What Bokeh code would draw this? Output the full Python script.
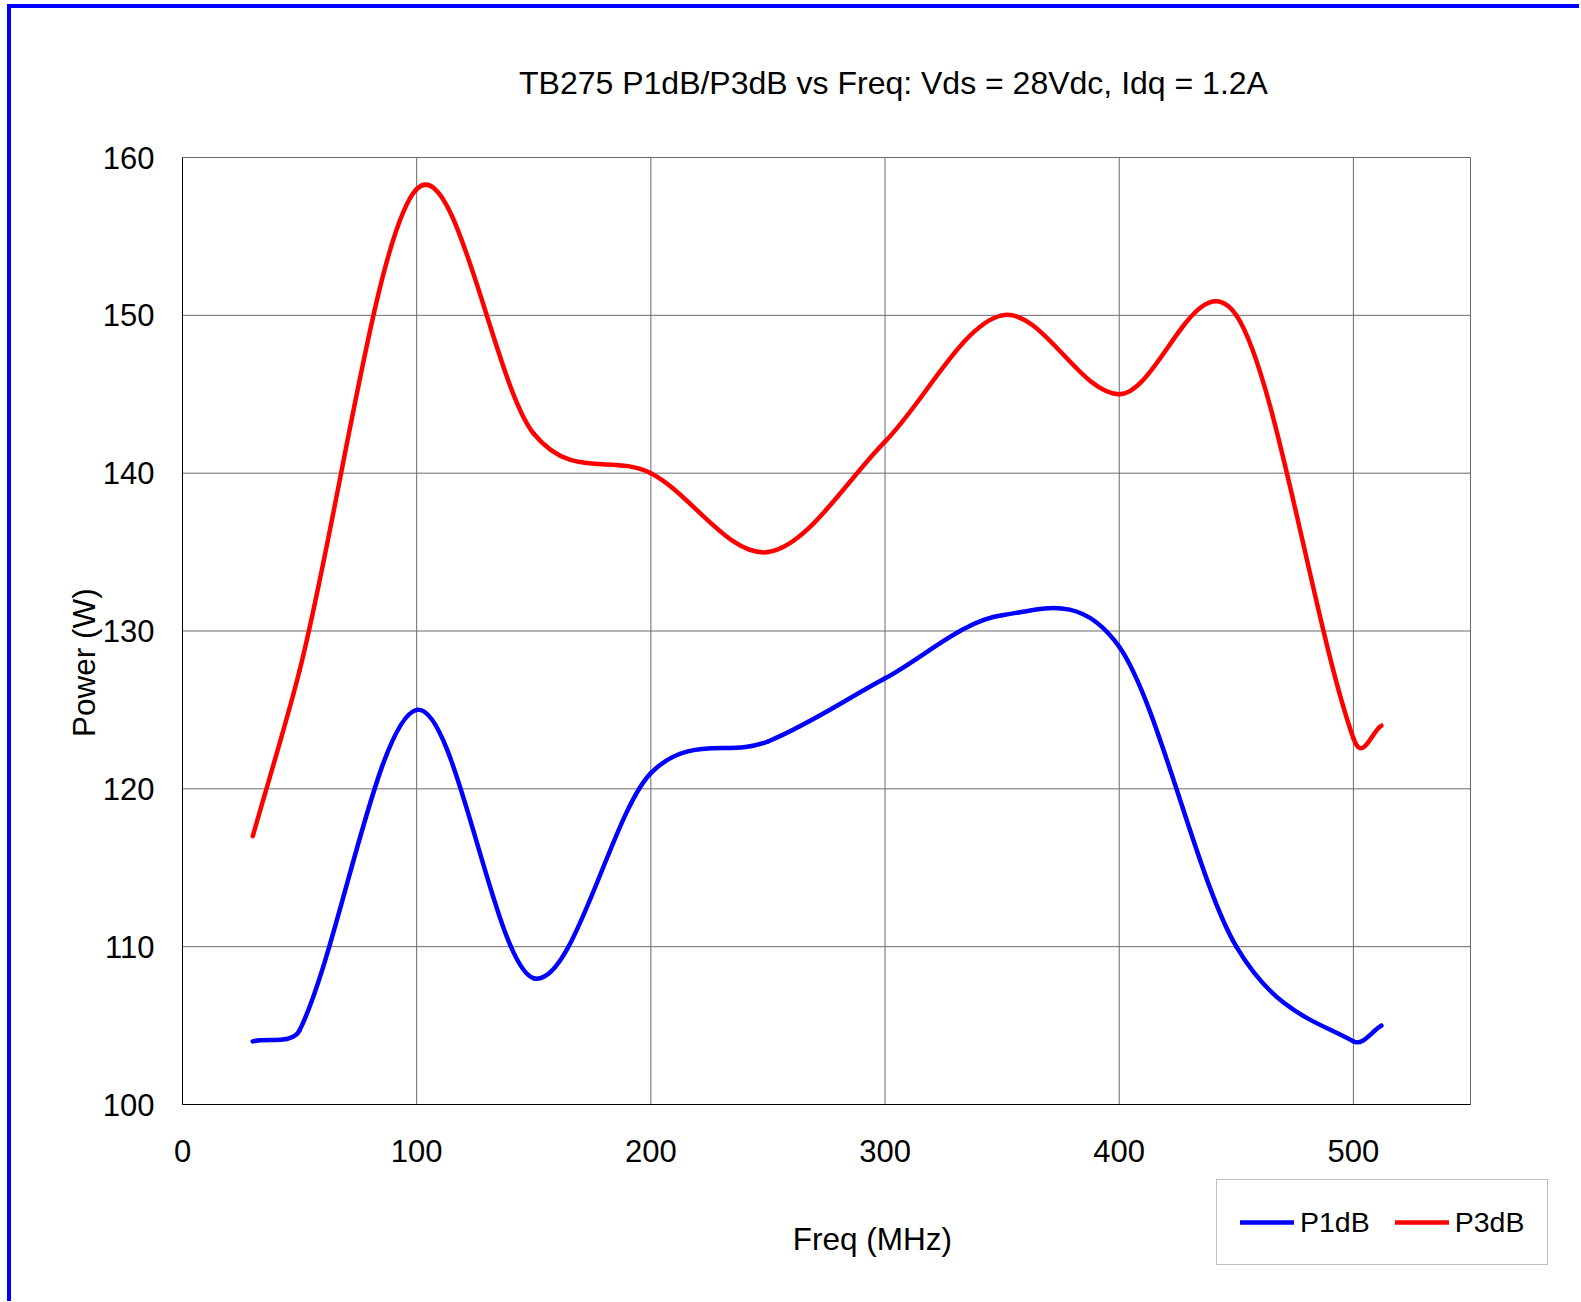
import numpy as np
from bokeh.plotting import figure
from bokeh.models import Label, Legend, LegendItem, FixedTicker, Range1d, ColumnDataSource
from bokeh.embed import file_html
from bokeh.resources import INLINE

# ---- data ----
freq_mhz = [30, 50, 100, 150, 200, 250, 300, 350, 400, 450, 500, 512]
p1db_w = [104, 104.7, 125, 108, 121, 123, 127, 131, 129, 110, 104, 105]
p3db_w = [117, 127.5, 158, 142.5, 140, 135, 142, 150, 145, 150, 123.2, 124]
x_ticks = [0, 100, 200, 300, 400, 500]
y_ticks = [100, 110, 120, 130, 140, 150, 160]
x_bounds = (0, 550)
y_bounds = (100, 160)
series_names = ["P1dB", "P3dB"]
series_colors = ["#0000FF", "#FF0000"]
title_text = "TB275 P1dB/P3dB vs Freq: Vds = 28Vdc, Idq = 1.2A"
x_label = "Freq (MHz)"
y_label = "Power (W)"

FONT = "Liberation Sans"

# canvas geometry (pixels): plot area spans x 171..1459, y 149..1096
W, H = 1568, 1293
PL, PR, PT, PB = 171.0, 1459.0, 149.0, 1096.0
sx = (PR - PL) / (x_bounds[1] - x_bounds[0])
sy = (PB - PT) / (y_bounds[1] - y_bounds[0])


def smooth_bezier(xs, ys):
    """Excel-style smoothed line: cubic Bezier segments between the data
    points, with control handles derived from neighbouring points.  The
    handle entering the point after a short first step is limited to a third
    of that step on screen."""
    x = np.asarray(xs, float)
    y = np.asarray(ys, float)
    n = len(x)
    hin = np.zeros((n, 2))
    hout = np.zeros((n, 2))
    for i in range(1, n - 1):
        t = np.array([x[i + 1] - x[i - 1], y[i + 1] - y[i - 1]])
        din, dout = x[i] - x[i - 1], x[i + 1] - x[i]
        hin[i] = t * din / (din + dout) / 3.0
        hout[i] = t * dout / (din + dout) / 3.0
    regular = np.median(np.diff(x))
    if x[1] - x[0] < regular:
        chord = np.hypot((x[1] - x[0]) * sx, (y[1] - y[0]) * sy) / 3.0
        L = np.hypot(hin[1][0] * sx, hin[1][1] * sy)
        if L > chord:
            hin[1] = hin[1] * chord / L
    hout[0] = ((x[1] - x[0]) / 3.0, (y[1] - y[0]) / 3.0)
    hin[-1] = ((x[-1] - x[-2]) / 3.0, (y[-1] - y[-2]) / 3.0)
    return dict(
        x0=x[:-1], y0=y[:-1], x1=x[1:], y1=y[1:],
        cx0=x[:-1] + hout[:-1, 0], cy0=y[:-1] + hout[:-1, 1],
        cx1=x[1:] - hin[1:, 0], cy1=y[1:] - hin[1:, 1],
    )


x_rng = Range1d(x_bounds[0] - PL / sx, x_bounds[1] + (W - PR) / sx)
y_rng = Range1d(y_bounds[0] - (H - PB) / sy, y_bounds[1] + PT / sy)

p = figure(
    width=W, height=H, title=None,
    output_backend="svg", toolbar_location=None,
    x_range=x_rng, y_range=y_rng,
    min_border_left=0, min_border_right=0,
    min_border_top=0, min_border_bottom=0,
    background_fill_color="white", border_fill_color="white",
    outline_line_color=None,
    styles={"position": "relative", "left": "11px", "top": "8px",
            "box-shadow": "-2px -2px 0 2px #0000ff"},
)

# axes drawn at the plot-area edges
for ax in (p.xaxis[0], p.yaxis[0]):
    ax.axis_line_color = "black"
    ax.axis_line_width = 1
    ax.major_tick_in = 0
    ax.major_tick_out = 0
    ax.minor_tick_in = 0
    ax.minor_tick_out = 0
    ax.major_label_text_font = FONT
    ax.major_label_text_font_size = "31px"
    ax.major_label_text_color = "black"
p.xaxis[0].fixed_location = y_bounds[0]
p.xaxis[0].bounds = x_bounds
p.yaxis[0].fixed_location = x_bounds[0]
p.yaxis[0].bounds = y_bounds
p.xaxis[0].ticker = FixedTicker(ticks=x_ticks)
p.yaxis[0].ticker = FixedTicker(ticks=y_ticks)
p.xaxis[0].major_label_standoff = 35
p.yaxis[0].major_label_standoff = 28

# grid lines limited to the plot area (last vertical line closes it on the right)
p.xgrid.visible = False
p.ygrid.visible = False
vx = x_ticks + [x_bounds[1]]
p.segment(x0=vx, y0=[y_bounds[0]] * len(vx), x1=vx, y1=[y_bounds[1]] * len(vx),
          line_color="#6a6a6a", line_width=1)
p.segment(x0=[x_bounds[0]] * len(y_ticks), y0=y_ticks,
          x1=[x_bounds[1]] * len(y_ticks), y1=y_ticks,
          line_color="#6a6a6a", line_width=1)

# series
renderers = []
for vals, color in zip([p1db_w, p3db_w], series_colors):
    src = ColumnDataSource(smooth_bezier(freq_mhz, vals))
    r = p.bezier(x0="x0", y0="y0", x1="x1", y1="y1",
                 cx0="cx0", cy0="cy0", cx1="cx1", cy1="cy1",
                 source=src, line_color=color, line_width=4.5,
                 line_cap="round", line_join="round")
    renderers.append(r)

legend = Legend(
    items=[LegendItem(label=n, renderers=[r]) for n, r in zip(series_names, renderers)],
    location=(1205, int(round(H - 1257.4))), orientation="horizontal",
    border_line_color="#808080", border_line_width=1,
    background_fill_color="white", background_fill_alpha=1,
    padding=23, spacing=25, margin=0,
    glyph_width=54, glyph_height=20, label_standoff=6, label_height=38,
    label_text_font=FONT, label_text_font_size="28.5px",
    label_text_color="black",
)
p.add_layout(legend)

# title and axis titles
p.add_layout(Label(x=303.6, y=164.73, text=title_text, text_align="center",
                   text_baseline="alphabetic", text_font=FONT,
                   text_font_size="32px", text_color="black"))
p.add_layout(Label(x=294.6, y=91.45, text=x_label, text_align="center",
                   text_baseline="alphabetic", text_font=FONT,
                   text_font_size="31.5px", text_color="black"))
p.add_layout(Label(x=-42.15, y=128.0, text=y_label, text_align="center",
                   text_baseline="alphabetic", angle=np.pi / 2, text_font=FONT,
                   text_font_size="31.5px", text_color="black"))

open("out.html", "w").write(file_html(p, INLINE))
